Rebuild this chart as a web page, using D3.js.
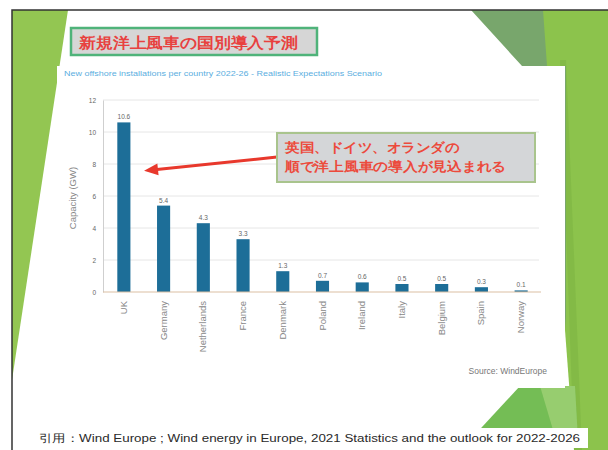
<!DOCTYPE html>
<html><head><meta charset="utf-8">
<script src="https://cdn.jsdelivr.net/npm/d3@7"></script>
<style>body{margin:0;background:#fff}svg{display:block}text{font-family:"Liberation Sans",Arial,sans-serif}</style>
</head><body>
<svg id="c" width="608" height="450"></svg>
<script>
const categories = ["UK","Germany","Netherlands","France","Denmark","Poland","Ireland","Italy","Belgium","Spain","Norway"];
const values = [10.6,5.4,4.3,3.3,1.3,0.7,0.6,0.5,0.5,0.3,0.1];
const valueLabels = ["10.6","5.4","4.3","3.3","1.3","0.7","0.6","0.5","0.5","0.3","0.1"];
const yTicks = [0,2,4,6,8,10,12];
const titleText = "新規洋上風車の国別導入予測";
const subtitleText = "New offshore installations per country 2022-26 - Realistic Expectations Scenario";
const noteLines = ["英国、ドイツ、オランダの","順で洋上風車の導入が見込まれる"];
const yTitle = "Capacity (GW)";
const sourceText = "Source: WindEurope";
const citeText = "引用：Wind Europe ; Wind energy in Europe, 2021 Statistics and the outlook  for 2022-2026";

const svg = d3.select("#c");
const jp = '"Noto Sans CJK JP",sans-serif';

// slide background shapes
svg.append("rect").attr("width",608).attr("height",450).attr("fill","#fff");
svg.append("polygon").attr("points","12,10 68,10 12,380").attr("fill","#93c652");
svg.append("polygon").attr("points","541,10 608,10 608,450 574,450").attr("fill","#8cc34c");
svg.append("polygon").attr("points","566,60 582,450 574,450 560,60").attr("fill","#7db443").attr("opacity",0.6);
svg.append("polygon").attr("points","471,10 543,10 566,330 566,66 522,66").attr("fill","#78a66c");
svg.append("polygon").attr("points","470,440 520,386 575,386 578,440").attr("fill","#74bd55");
svg.append("polygon").attr("points","540,386 575,386 578,440 556,440").attr("fill","#a6d47a").attr("opacity",0.7);

// frame border
svg.append("path").attr("d","M12,450 V10 H608").attr("fill","none").attr("stroke","#333").attr("stroke-width",1.5);

// chart white area
svg.append("rect").attr("x",57).attr("y",66).attr("width",508).attr("height",322).attr("fill","#fff");

// title box
svg.append("rect").attr("x",71).attr("y",28).attr("width",246).attr("height",27)
  .attr("fill","#d6d6d6").attr("stroke","#4fb37a").attr("stroke-width",2.5);
svg.append("text").attr("x",79).attr("y",47.5).text(titleText)
  .attr("font-family",jp).attr("font-size",14.5).attr("font-weight","bold").attr("fill","#e8413f")
  .attr("textLength",219).attr("lengthAdjust","spacingAndGlyphs");

// subtitle
svg.append("text").attr("x",64).attr("y",76).text(subtitleText)
  .attr("font-size",6.5).attr("fill","#5aaee0").attr("textLength",318).attr("lengthAdjust","spacingAndGlyphs");

// scales
const x = d3.scaleBand().domain(categories).range([104,541]).paddingInner(0.67).paddingOuter(0.335);
const y = d3.scaleLinear().domain([0,12]).range([292,100]);

// gridlines
svg.append("g").selectAll("line").data(yTicks.filter(d=>d>0)).join("line")
  .attr("x1",103).attr("x2",539).attr("y1",d=>y(d)).attr("y2",d=>y(d))
  .attr("stroke","#e6e6e6").attr("stroke-width",1);

// y axis
const yAxis = svg.append("g").attr("transform","translate(103,0)")
  .call(d3.axisLeft(y).tickValues(yTicks).tickSize(0).tickPadding(7).tickFormat(d3.format("d")));
yAxis.select(".domain").attr("stroke","#cfcfcf");
yAxis.selectAll("text").attr("font-size",6.5).attr("fill","#666");

// bars
svg.append("g").selectAll("rect").data(values).join("rect")
  .attr("x",(d,i)=>x(categories[i])).attr("width",x.bandwidth())
  .attr("y",d=>y(d)).attr("height",d=>y(0)-y(d)).attr("fill","#1d6e98");

// value labels
svg.append("g").selectAll("text").data(values).join("text")
  .attr("x",(d,i)=>x(categories[i])+x.bandwidth()/2).attr("y",d=>y(d)-3)
  .attr("text-anchor","middle").attr("font-size",6.5).attr("fill","#666")
  .text((d,i)=>valueLabels[i]);

// x baseline
svg.append("line").attr("x1",103).attr("x2",541).attr("y1",y(0)).attr("y2",y(0))
  .attr("stroke","#dcc0a4").attr("stroke-width",1.2);

// category labels
svg.append("g").selectAll("text").data(categories).join("text")
  .attr("transform",d=>`translate(${x(d)+x.bandwidth()/2+3},301) rotate(-90)`)
  .attr("text-anchor","end").attr("font-size",9.5).attr("fill","#888").text(d=>d);

// y title
svg.append("text").attr("transform","translate(76,198) rotate(-90)")
  .attr("text-anchor","middle").attr("font-size",9.5).attr("fill","#888").text(yTitle);

// source
svg.append("text").attr("x",547).attr("y",374).attr("text-anchor","end")
  .attr("font-size",8.5).attr("fill","#777").text(sourceText);

// annotation arrow
const arrow = [[277,157],[152,170]];
svg.append("line").attr("x1",arrow[0][0]).attr("y1",arrow[0][1]).attr("x2",arrow[1][0]).attr("y2",arrow[1][1])
  .attr("stroke","#e8382c").attr("stroke-width",3);
const ang = Math.atan2(arrow[1][1]-arrow[0][1], arrow[1][0]-arrow[0][0]);
const tip = [arrow[1][0]+Math.cos(ang)*8, arrow[1][1]+Math.sin(ang)*8];
const back = [tip[0]-Math.cos(ang)*14, tip[1]-Math.sin(ang)*14];
const px = -Math.sin(ang)*6, py = Math.cos(ang)*6;
svg.append("polygon").attr("points",`${tip[0]},${tip[1]} ${back[0]+px},${back[1]+py} ${back[0]-px},${back[1]-py}`)
  .attr("fill","#e8382c");

// annotation box
svg.append("rect").attr("x",277).attr("y",133).attr("width",258).attr("height",49)
  .attr("fill","#d4d6d8").attr("stroke","#a9c48d").attr("stroke-width",2);
svg.append("text").attr("x",285).attr("y",152).text(noteLines[0])
  .attr("font-family",jp).attr("font-size",13).attr("font-weight","bold").attr("fill","#ec4a3c")
  .attr("textLength",174).attr("lengthAdjust","spacingAndGlyphs");
svg.append("text").attr("x",285).attr("y",171).text(noteLines[1])
  .attr("font-family",jp).attr("font-size",13).attr("font-weight","bold").attr("fill","#ec4a3c")
  .attr("textLength",221).attr("lengthAdjust","spacingAndGlyphs");

// citation
svg.append("rect").attr("x",36).attr("y",428).attr("width",552).attr("height",20).attr("fill","#fff");
svg.append("text").attr("x",39).attr("y",442).text(citeText)
  .attr("font-family",'"Noto Sans CJK JP","Liberation Sans",sans-serif').attr("font-weight",500)
  .attr("font-size",11).attr("fill","#2a2a2a").attr("textLength",541).attr("lengthAdjust","spacingAndGlyphs");
</script>
</body></html>
